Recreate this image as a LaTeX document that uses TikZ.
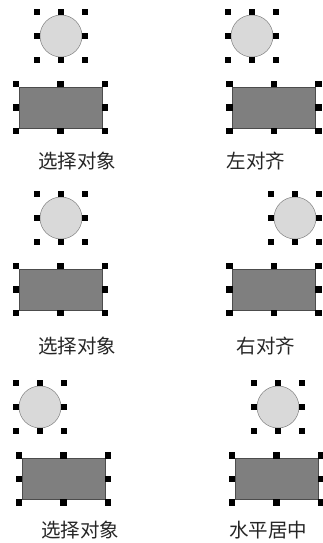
\documentclass[tikz,border=0pt]{standalone}
\usepackage{fontspec}
\newfontfamily\cjk{Noto Sans CJK SC}
\usetikzlibrary{calc}

\definecolor{circfill}{HTML}{D9D9D9}
\definecolor{rectfill}{HTML}{7F7F7F}

% eight selection handles round a node: name, half width, half height
\newcommand{\selhandles}[3]{%
  \foreach \i/\j in {-1/-1,0/-1,1/-1,-1/0,1/0,-1/1,0/1,1/1}
    \fill[black] ($(#1.center)+(\i*#2,\j*#3)$) ++(-3.2,-3.2) rectangle ++(6.4,6.4);
}

\begin{document}
\begin{tikzpicture}[x=1pt, y=-1pt,
    obj_circle/.style={draw=gray, fill=circfill, circle, minimum size=42pt, inner sep=0pt, line width=0.5pt},
    obj_rect/.style={draw=black!70, fill=rectfill, rectangle, minimum width=83pt, minimum height=41pt, inner sep=0pt, line width=0.5pt},
    cap_text/.style={font=\cjk\fontsize{19.5}{19.5}\selectfont, text=black!85}]
    \useasboundingbox (0,0) rectangle (323,543);

    % row 1: select / align left
    \node[obj_circle] (c1l) at (61,36) {};
    \node[obj_rect] (r1l) at (60.5,107.5) {};
    \node[cap_text] (t1l) at (77,161) {选择对象};
    \node[obj_circle] (c1r) at (252,36) {};
    \node[obj_rect] (r1r) at (274,107.5) {};
    \node[cap_text] (t1r) at (256,161) {左对齐};

    % row 2: select / align right
    \node[obj_circle] (c2l) at (61,218) {};
    \node[obj_rect] (r2l) at (60.5,289.5) {};
    \node[cap_text] (t2l) at (77,346) {选择对象};
    \node[obj_circle] (c2r) at (295,218) {};
    \node[obj_rect] (r2r) at (274,289.5) {};
    \node[cap_text] (t2r) at (266,346) {右对齐};

    % row 3: select / centre horizontally
    \node[obj_circle] (c3l) at (40,407) {};
    \node[obj_rect] (r3l) at (63.5,479) {};
    \node[cap_text] (t3l) at (80,530) {选择对象};
    \node[obj_circle] (c3r) at (278,407) {};
    \node[obj_rect] (r3r) at (276.5,479) {};
    \node[cap_text] (t3r) at (268,530) {水平居中};

    \foreach \n in {c1l,c1r,c2l,c2r,c3l,c3r} {\selhandles{\n}{24}{24}}
    \foreach \n in {r1l,r1r,r2l,r2r,r3l,r3r} {\selhandles{\n}{44.5}{23.5}}
\end{tikzpicture}
\end{document}
